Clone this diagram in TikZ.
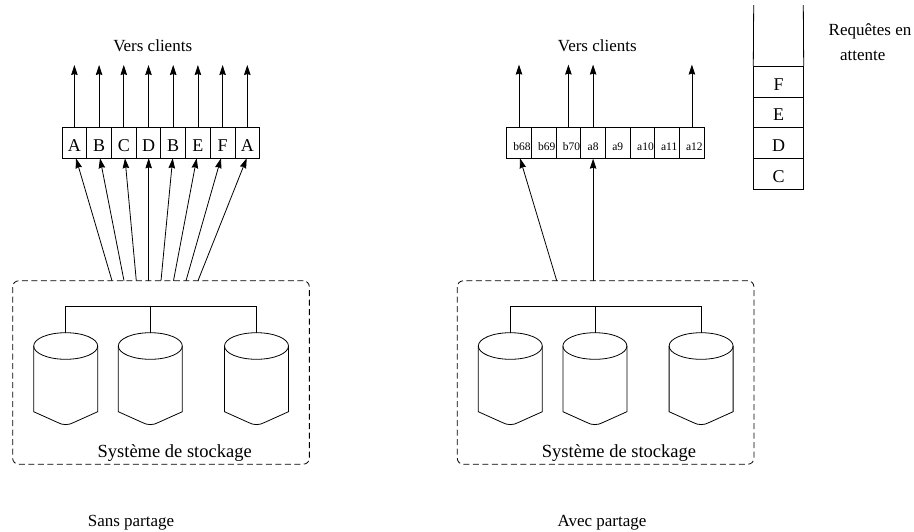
\documentclass[tikz,border=0pt]{standalone}
\usepackage{fontspec}
\setmainfont{Liberation Serif}
\usetikzlibrary{arrows.meta}
\newcommand{\fs}[1]{\fontsize{#1}{#1}\selectfont}
\newcommand{\disk}[3]{%
  \coordinate (#1) at (#2,#3);
  \draw[wire] (#2-32,#3) arc[start angle=180,end angle=-180,x radius=32,y radius=13.3];
  \draw[wire] (#2-32,#3) -- (#2-32,#3+65.7) -- (#2-8,#3+76.5) .. controls (#2-3,#3+79.3) and (#2+3,#3+79.3) .. (#2+8,#3+76.5) -- (#2+32,#3+65.7) -- (#2+32,#3);
}
\tikzset{
  x=1pt,y=-1pt,
  wire/.style={line width=0.8pt,black},
  flow/.style={wire,-{Stealth[length=10pt,width=6.5pt,inset=1pt]}},
  cell/.style={draw,line width=0.8pt,minimum width=24.7pt,minimum height=31pt,inner sep=0pt,anchor=center},
  bigcell/.style={cell,font=\fs{18},text height=16.4pt,text depth=0pt},
  smallcell/.style={cell,font=\fs{11.5},text height=14.4pt,text depth=0pt},
  stackcell/.style={draw,line width=0.8pt,minimum width=49.6pt,minimum height=30.7pt,inner sep=0pt,font=\fs{18},text height=16.6pt,text depth=0pt},
  store/.style={draw,dashed,dash pattern=on 6pt off 3.5pt,line width=0.8pt,rounded corners=6pt,minimum width=296.7pt,minimum height=183.4pt,inner sep=0pt},
  caption/.style={inner sep=0pt,font=\fs{17}},
  storelabel/.style={inner sep=0pt,font=\fs{18.5}},
}
\begin{document}
\begin{tikzpicture}
\useasboundingbox (0,0) rectangle (914,531);
\node[store] (sL) at (161,372.5) {};
\node[store] (sR) at (605.6,372.5) {};
\foreach \n/\x/\t in {1/74.4/A,2/99.1/B,3/123.8/C,4/148.5/D,5/173.2/B,6/197.9/E,7/222.6/F,8/247.3/A}{
  \node[bigcell] (l\n) at (\x,142.8) {\t};
  \coordinate (lo\n) at (\x,65);
  \draw[flow] (l\n.north) -- (lo\n);
}
\foreach \n/\xs/\xt in {1/112/76,2/124/100,3/136.3/125,4/148.7/148.7,5/161/172.7,6/173.5/196.7,7/186/221,8/198/246.7}{
  \coordinate (lf\n) at (\xs,280.7);
  \coordinate (lt\n) at (\xt,158.3);
  \draw[flow] (lf\n) -- (lt\n);
}
\foreach \n/\x/\k/\t in {1/519/6/b68,2/543.7/6/b69,3/568.4/6/b70,4/593.1/0/a8,5/617.8/0/a9,6/642.5/6/a10,7/667.2/4/a11,8/691.9/5/a12}{
  \node[smallcell] (r\n) at (\x,142.8) {\kern\k pt\t};
}
\foreach \n in {1,3,4,8}{
  \path (r\n.north) ++(0,-62.3) coordinate (ro\n);
  \draw[flow] (r\n.north) -- (ro\n);
}
\coordinate (rf1) at (556.7,280.7);
\coordinate (rt1) at (520,158.3);
\draw[flow] (rf1) -- (rt1);
\coordinate (rf4) at (593.1,280.7);
\draw[flow] (rf4) -- (r4.south);
\disk{d1}{65.7}{346}
\disk{d2}{150.3}{346}
\disk{d3}{256.5}{346}
\disk{e1}{510.3}{346}
\disk{e2}{594.9}{346}
\disk{e3}{701.1}{346}
\draw[wire] (65.7,332.7) -- (65.7,306.7) -- (256.5,306.7) -- (256.5,332.7);
\draw[wire] (150.3,306.7) -- (150.3,332.7);
\draw[wire] (510.3,332.7) -- (510.3,306.7) -- (701.1,306.7) -- (701.1,332.7);
\draw[wire] (594.9,306.7) -- (594.9,332.7);
\node[stackcell] (qF) at (778.5,81.7) {F};
\node[stackcell] (qE) at (778.5,112.4) {E};
\node[stackcell] (qD) at (778.5,143.1) {D};
\node[stackcell] (qC) at (778.5,173.8) {C};
\coordinate (qtl) at (753.7,5);
\coordinate (qtr) at (803.3,5);
\draw[wire] (qF.north west) -- (qtl);
\draw[wire] (qF.north east) -- (qtr);
\node[caption] (v1) at (152.7,46) {Vers clients};
\node[caption] (v2) at (597.3,46) {Vers clients};
\node[storelabel] (t1) at (174.7,453) {Système de stockage};
\node[storelabel] (t2) at (619,453) {Système de stockage};
\node[caption] (c1) at (131,523) {Sans partage};
\node[caption] (c2) at (602,523) {Avec partage};
\node[caption] (w1) at (870,31) {Requêtes en};
\node[caption] (w2) at (862.7,56) {attente};
\end{tikzpicture}
\end{document}
